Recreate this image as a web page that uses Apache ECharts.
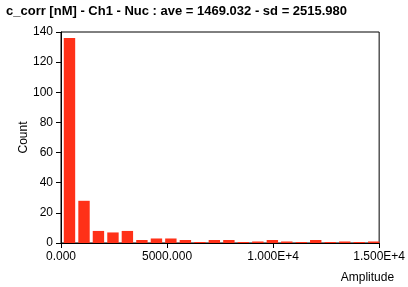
<!DOCTYPE html>
<html>
<head>
<meta charset="utf-8">
<script src="https://cdn.jsdelivr.net/npm/echarts@6/dist/echarts.min.js"></script>
<style>
html,body{margin:0;padding:0;background:#fff;}
#chart{width:408px;height:287px;}
</style>
</head>
<body>
<div id="chart"></div>
<script>
var titleText = 'c_corr [nM] - Ch1 - Nuc : ave = 1469.032 - sd = 2515.980';
var binCenters = [400, 1085, 1765, 2450, 3130, 3815, 4500, 5180, 5865, 6550, 7230, 7915, 8595, 9280, 9965, 10645, 11330, 12010, 12695, 13380, 14060, 14745];
var counts = [136, 28, 8, 7, 8, 2, 3, 3, 2, 0, 2, 2, 0, 1, 2, 1, 0, 2, 0, 1, 0, 1];
var xTickValues = [0, 5000, 10000, 15000];
var xTickLabels = ['0.000', '5000.000', '1.000E+4', '1.500E+4'];
var yTicks = [0, 20, 40, 60, 80, 100, 120, 140];

var FONT = 'Liberation Sans';
var chart = echarts.init(document.getElementById('chart'), null, {renderer: 'canvas'});
var data = binCenters.map(function (x, i) { return [x, counts[i]]; });
chart.setOption({
  animation: false,
  backgroundColor: '#ffffff',
  title: {
    text: titleText,
    left: 6, top: 5, padding: 0,
    textStyle: {fontFamily: FONT, fontWeight: 'bold', fontSize: 13, color: '#000'}
  },
  grid: {left: 61, right: 24, top: 32, bottom: 44, show: true, borderColor: '#000', borderWidth: 1, containLabel: false},
  xAxis: {
    type: 'value', min: 0, max: 15000, interval: 5000,
    name: 'Amplitude', nameLocation: 'end', nameGap: 15, nameMoveOverlap: false,
    nameTextStyle: {fontFamily: FONT, fontSize: 12, color: '#000', align: 'right', verticalAlign: 'top', padding: [29, 0, 0, 0]},
    axisLine: {show: true, onZero: false, lineStyle: {color: '#000', width: 1}},
    axisTick: {show: true, inside: false, length: 5, lineStyle: {color: '#000'}},
    splitLine: {show: false},
    axisLabel: {
      fontFamily: FONT, fontSize: 12, color: '#000', margin: 8,
      formatter: function (v) { var i = xTickValues.indexOf(v); return i >= 0 ? xTickLabels[i] : ''; }
    }
  },
  yAxis: {
    type: 'value', min: 0, max: 140, interval: 20,
    name: 'Count', nameLocation: 'middle', nameGap: 31, nameMoveOverlap: false,
    nameTextStyle: {fontFamily: FONT, fontSize: 12, color: '#000'},
    axisLine: {show: true, lineStyle: {color: '#000', width: 1}},
    axisTick: {show: true, inside: false, length: 5, lineStyle: {color: '#000'}},
    splitLine: {show: false},
    axisLabel: {fontFamily: FONT, fontSize: 12, color: '#000', margin: 8}
  },
  series: [{
    type: 'bar',
    data: data,
    barWidth: '79%',
    barMinHeight: 1,
    itemStyle: {color: '#ff3118'}
  }]
});
</script>
</body>
</html>
